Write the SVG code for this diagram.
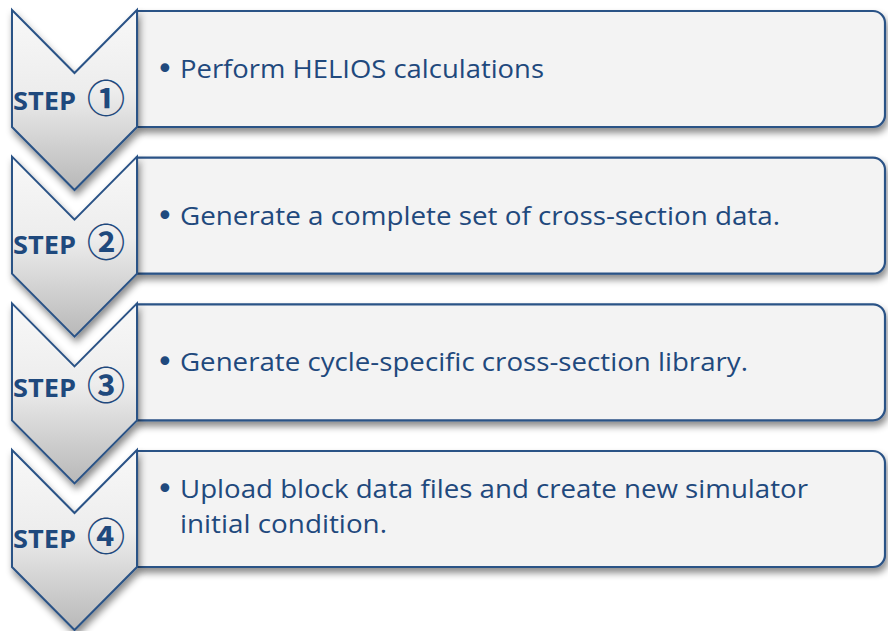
<svg xmlns="http://www.w3.org/2000/svg" width="888" height="631" viewBox="0 0 888 631">
<style>
.box{fill:#f3f3f3;stroke:#2a5286;stroke-width:2.2}
.chev{fill:url(#cg);stroke:#2a5286;stroke-width:2}
.txt{font-family:"Open Sans",Lato,sans-serif;font-size:26px;fill:#1f497d}
.bul{font-family:"DejaVu Sans",sans-serif;font-size:30px;fill:#1f497d}
.step{font-family:"Open Sans",Lato,sans-serif;font-size:25px;font-weight:bold;fill:#1f497d}
.num{font-family:"Noto Sans CJK JP","DejaVu Sans",sans-serif;font-size:38px;font-weight:bold}
</style>
<defs>
<linearGradient id="cg" x1="0" y1="0" x2="0" y2="1">
<stop offset="0" stop-color="#f8f8f8"/>
<stop offset="0.45" stop-color="#ededed"/>
<stop offset="1" stop-color="#b8b8b8"/>
</linearGradient>
<filter id="sh" x="-10%" y="-10%" width="130%" height="140%">
<feDropShadow dx="2" dy="5" stdDeviation="3.5" flood-color="#000" flood-opacity="0.45"/>
</filter>
<path id="chevShape" d="M12,10 L74.5,73 L137,10 L137,127 L74.5,190 L12,127 Z"/>
<path id="boxShape" d="M137,11 H873 A12,12 0 0 1 885,23 V115 A12,12 0 0 1 873,127 H137 Z"/>
</defs>
<g id="step1">
<use href="#boxShape" class="box" filter="url(#sh)"/>
<use href="#chevShape" class="chev" filter="url(#sh)"/>
<text class="step" x="13" y="110" textLength="63" lengthAdjust="spacingAndGlyphs">STEP</text>
<text class="step num" x="87" y="112">①</text>
<text class="bul" x="156" y="79">•</text>
<text class="txt" x="180" y="78" textLength="364" lengthAdjust="spacingAndGlyphs">Perform HELIOS calculations</text>
</g>
<g id="step2" transform="translate(0,146.67)">
<use href="#boxShape" class="box" filter="url(#sh)"/>
<use href="#chevShape" class="chev" filter="url(#sh)"/>
<text class="step" x="13" y="107" textLength="63" lengthAdjust="spacingAndGlyphs">STEP</text>
<text class="step num" x="87" y="109">②</text>
<text class="bul" x="156" y="79.5">•</text>
<text class="txt" x="180" y="78.5" textLength="600" lengthAdjust="spacingAndGlyphs">Generate a complete set of cross-section data.</text>
</g>
<g id="step3" transform="translate(0,293.33)">
<use href="#boxShape" class="box" filter="url(#sh)"/>
<use href="#chevShape" class="chev" filter="url(#sh)"/>
<text class="step" x="13" y="104" textLength="63" lengthAdjust="spacingAndGlyphs">STEP</text>
<text class="step num" x="87" y="106">③</text>
<text class="bul" x="156" y="78.5">•</text>
<text class="txt" x="180" y="77.5" textLength="568" lengthAdjust="spacingAndGlyphs">Generate cycle-specific cross-section library.</text>
</g>
<g id="step4" transform="translate(0,440)">
<use href="#boxShape" class="box" filter="url(#sh)"/>
<use href="#chevShape" class="chev" filter="url(#sh)"/>
<text class="step" x="13" y="108" textLength="63" lengthAdjust="spacingAndGlyphs">STEP</text>
<text class="step num" x="87" y="110">④</text>
<text class="bul" x="156" y="59">•</text>
<text class="txt" x="180" y="58" textLength="628" lengthAdjust="spacingAndGlyphs">Upload block data files and create new simulator</text>
<text class="txt" x="180" y="93" textLength="207" lengthAdjust="spacingAndGlyphs">initial condition.</text>
</g>
<g id="connectors"/>
</svg>
